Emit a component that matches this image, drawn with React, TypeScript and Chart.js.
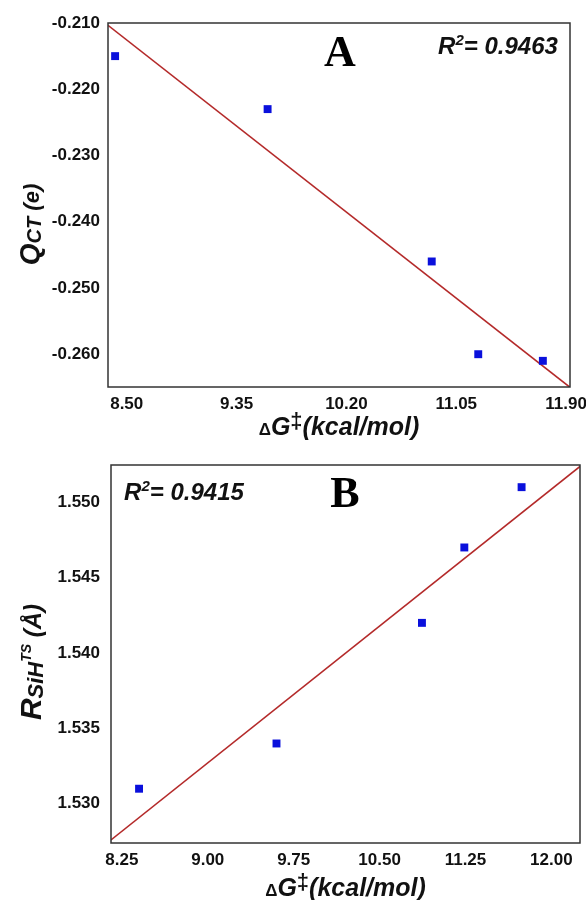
import React, { useEffect, useRef } from 'react';
import { Chart, registerables } from 'chart.js';

Chart.register(...registerables);

// ---------- Data: panel A ----------
const dG_A = [8.41, 9.59, 10.86, 11.22, 11.72];
const qCT_A = [-0.215, -0.223, -0.246, -0.26, -0.261];
const xTicks_A = [8.5, 9.35, 10.2, 11.05, 11.9];
const yTicks_A = [-0.21, -0.22, -0.23, -0.24, -0.25, -0.26];
const xRange_A = [8.355, 11.93];
const yRange_A = [-0.26495, -0.21];
const r2_A = '0.9463';

// ---------- Data: panel B ----------
const dG_B = [8.4, 9.6, 10.87, 11.24, 11.74];
const rSiH_B = [1.531, 1.534, 1.542, 1.547, 1.551];
const xTicks_B = [8.25, 9.0, 9.75, 10.5, 11.25, 12.0];
const yTicks_B = [1.53, 1.535, 1.54, 1.545, 1.55];
const xRange_B = [8.155, 12.25];
const yRange_B = [1.5274, 1.55247];
const r2_B = '0.9415';

const SANS = "'Liberation Sans', Arial, sans-serif";
const SERIF = "'Liberation Serif', 'Times New Roman', serif";

function fitLine(xs: number[], ys: number[]) {
  const n = xs.length;
  const mx = xs.reduce((a, b) => a + b, 0) / n;
  const my = ys.reduce((a, b) => a + b, 0) / n;
  let sxy = 0, sxx = 0;
  for (let i = 0; i < n; i++) {
    sxy += (xs[i] - mx) * (ys[i] - my);
    sxx += (xs[i] - mx) * (xs[i] - mx);
  }
  const b = sxy / sxx;
  const a = my - b * mx;
  return (x: number) => a + b * x;
}

type Seg = { t: string; font: string; dy?: number };

function drawRich(ctx: CanvasRenderingContext2D, segs: Seg[], cx: number, by: number, rotate = false) {
  ctx.save();
  ctx.translate(cx, by);
  if (rotate) ctx.rotate(-Math.PI / 2);
  ctx.textAlign = 'left';
  ctx.textBaseline = 'alphabetic';
  ctx.fillStyle = '#111';
  let total = 0;
  const widths = segs.map((s) => {
    ctx.font = s.font;
    const w = ctx.measureText(s.t).width;
    total += w;
    return w;
  });
  let x = -total / 2;
  segs.forEach((s, i) => {
    ctx.font = s.font;
    ctx.fillText(s.t, x, s.dy || 0);
    x += widths[i];
  });
  ctx.restore();
}

interface PanelCfg {
  xs: number[];
  ys: number[];
  xTicks: number[];
  yTicks: number[];
  xRange: number[];
  yRange: number[];
  xDec: number;
  yDec: number;
  height: number;
  padTop: number;
  padRight: number;
  yAxisWidth: number;
  xAxisHeight: number;
  yTickPad: number;
  xTickPad: number;
  decorate: (ctx: CanvasRenderingContext2D, area: any) => void;
}

function makeConfig(p: PanelCfg): any {
  const f = fitLine(p.xs, p.ys);
  const points = p.xs.map((x, i) => ({ x, y: p.ys[i] }));
  const line = [
    { x: p.xRange[0], y: f(p.xRange[0]) },
    { x: p.xRange[1], y: f(p.xRange[1]) },
  ];
  const tickFont = { family: SANS, weight: 'bold', size: 17 };
  return {
    type: 'scatter',
    data: {
      datasets: [
        {
          data: points,
          pointStyle: 'rect',
          pointRadius: 5.6,
          pointBorderWidth: 0,
          backgroundColor: '#0a10dc',
          borderColor: '#0a10dc',
        },
        {
          type: 'line',
          data: line,
          borderColor: '#b42a2a',
          borderWidth: 1.6,
          pointRadius: 0,
          fill: false,
        },
      ],
    },
    options: {
      responsive: false,
      animation: false,
      layout: { padding: { top: p.padTop, right: p.padRight, left: 0, bottom: 0 } },
      plugins: { legend: { display: false }, tooltip: { enabled: false } },
      scales: {
        x: {
          type: 'linear',
          min: p.xRange[0],
          max: p.xRange[1],
          grid: { display: false, drawTicks: false },
          border: { display: false },
          ticks: {
            font: tickFont,
            color: '#111',
            padding: p.xTickPad,
            maxRotation: 0,
            autoSkip: false,
            callback: (v: any) => Number(v).toFixed(p.xDec),
          },
          afterBuildTicks: (s: any) => {
            s.ticks = p.xTicks.map((v) => ({ value: v }));
          },
          afterFit: (s: any) => {
            s.height = p.xAxisHeight;
            s.paddingLeft = 0;
            s.paddingRight = 0;
          },
        },
        y: {
          type: 'linear',
          min: p.yRange[0],
          max: p.yRange[1],
          grid: { display: false, drawTicks: false },
          border: { display: false },
          ticks: {
            font: tickFont,
            color: '#111',
            padding: p.yTickPad,
            autoSkip: false,
            callback: (v: any) => Number(v).toFixed(p.yDec),
          },
          afterBuildTicks: (s: any) => {
            s.ticks = p.yTicks.map((v) => ({ value: v }));
          },
          afterFit: (s: any) => {
            s.width = p.yAxisWidth;
            s.paddingTop = 0;
            s.paddingBottom = 0;
          },
        },
      },
    },
    plugins: [
      {
        id: 'frameAndText',
        afterDraw: (chart: any) => {
          const ctx = chart.ctx as CanvasRenderingContext2D;
          const a = chart.chartArea;
          ctx.save();
          ctx.strokeStyle = '#333';
          ctx.lineWidth = 1.5;
          ctx.strokeRect(a.left, a.top, a.right - a.left, a.bottom - a.top);
          ctx.restore();
          p.decorate(ctx, a);
        },
      },
    ],
  };
}

const BI = (s: number) => `italic bold ${s}px ${SANS}`;
const B = (s: number) => `bold ${s}px ${SANS}`;

function xTitle(): Seg[] {
  return [
    { t: 'Δ', font: B(17) },
    { t: 'G', font: BI(25) },
    { t: '‡', font: B(22), dy: -7 },
    { t: '(kcal/mol)', font: BI(25) },
  ];
}

const panelA: PanelCfg = {
  xs: dG_A,
  ys: qCT_A,
  xTicks: xTicks_A,
  yTicks: yTicks_A,
  xRange: xRange_A,
  yRange: yRange_A,
  xDec: 2,
  yDec: 3,
  height: 445,
  padTop: 23,
  padRight: 16,
  yAxisWidth: 108,
  xAxisHeight: 58,
  yTickPad: 8,
  xTickPad: 7,
  decorate: (ctx, a) => {
    ctx.save();
    ctx.fillStyle = '#000';
    ctx.font = `bold 44px ${SERIF}`;
    ctx.textAlign = 'center';
    ctx.textBaseline = 'alphabetic';
    ctx.fillText('A', a.left + 232, 66);
    ctx.restore();
    drawRich(ctx, [
      { t: 'R', font: BI(24) },
      { t: '2', font: BI(15), dy: -9 },
      { t: '= ' + r2_A, font: BI(24) },
    ], a.left + 390, 54);
    drawRich(ctx, xTitle(), (a.left + a.right) / 2, 435);
    drawRich(ctx, [
      { t: 'Q', font: BI(28) },
      { t: 'CT', font: BI(20), dy: 2 },
      { t: ' (e)', font: BI(22) },
    ], 39, 224.5, true);
  },
};

const panelB: PanelCfg = {
  xs: dG_B,
  ys: rSiH_B,
  xTicks: xTicks_B,
  yTicks: yTicks_B,
  xRange: xRange_B,
  yRange: yRange_B,
  xDec: 2,
  yDec: 3,
  height: 455,
  padTop: 20,
  padRight: 6,
  yAxisWidth: 111,
  xAxisHeight: 57,
  yTickPad: 11,
  xTickPad: 7,
  decorate: (ctx, a) => {
    ctx.save();
    ctx.fillStyle = '#000';
    ctx.font = `bold 44px ${SERIF}`;
    ctx.textAlign = 'center';
    ctx.textBaseline = 'alphabetic';
    ctx.fillText('B', a.left + 234, 62);
    ctx.restore();
    drawRich(ctx, [
      { t: 'R', font: BI(24) },
      { t: '2', font: BI(15), dy: -9 },
      { t: '= ' + r2_B, font: BI(24) },
    ], a.left + 73, 55);
    drawRich(ctx, xTitle(), (a.left + a.right) / 2, 451);
    drawRich(ctx, [
      { t: 'R', font: BI(30) },
      { t: 'SiH', font: BI(22), dy: 2 },
      { t: 'TS', font: BI(14), dy: -10 },
      { t: ' (Å)', font: BI(24) },
    ], 41, 217, true);
  },
};

function Panel({ cfg }: { cfg: PanelCfg }) {
  const ref = useRef<HTMLCanvasElement | null>(null);
  useEffect(() => {
    if (!ref.current) return;
    const chart = new Chart(ref.current, makeConfig(cfg));
    return () => chart.destroy();
  }, [cfg]);
  return (
    <canvas
      ref={ref}
      width={586}
      height={cfg.height}
      style={{ display: 'block', width: 586, height: cfg.height }}
    />
  );
}

export default function App() {
  return (
    <div
      style={{
        position: 'absolute',
        left: 0,
        top: 0,
        width: 586,
        height: 900,
        background: '#fff',
        overflow: 'hidden',
      }}
    >
      <Panel cfg={panelA} />
      <Panel cfg={panelB} />
    </div>
  );
}
